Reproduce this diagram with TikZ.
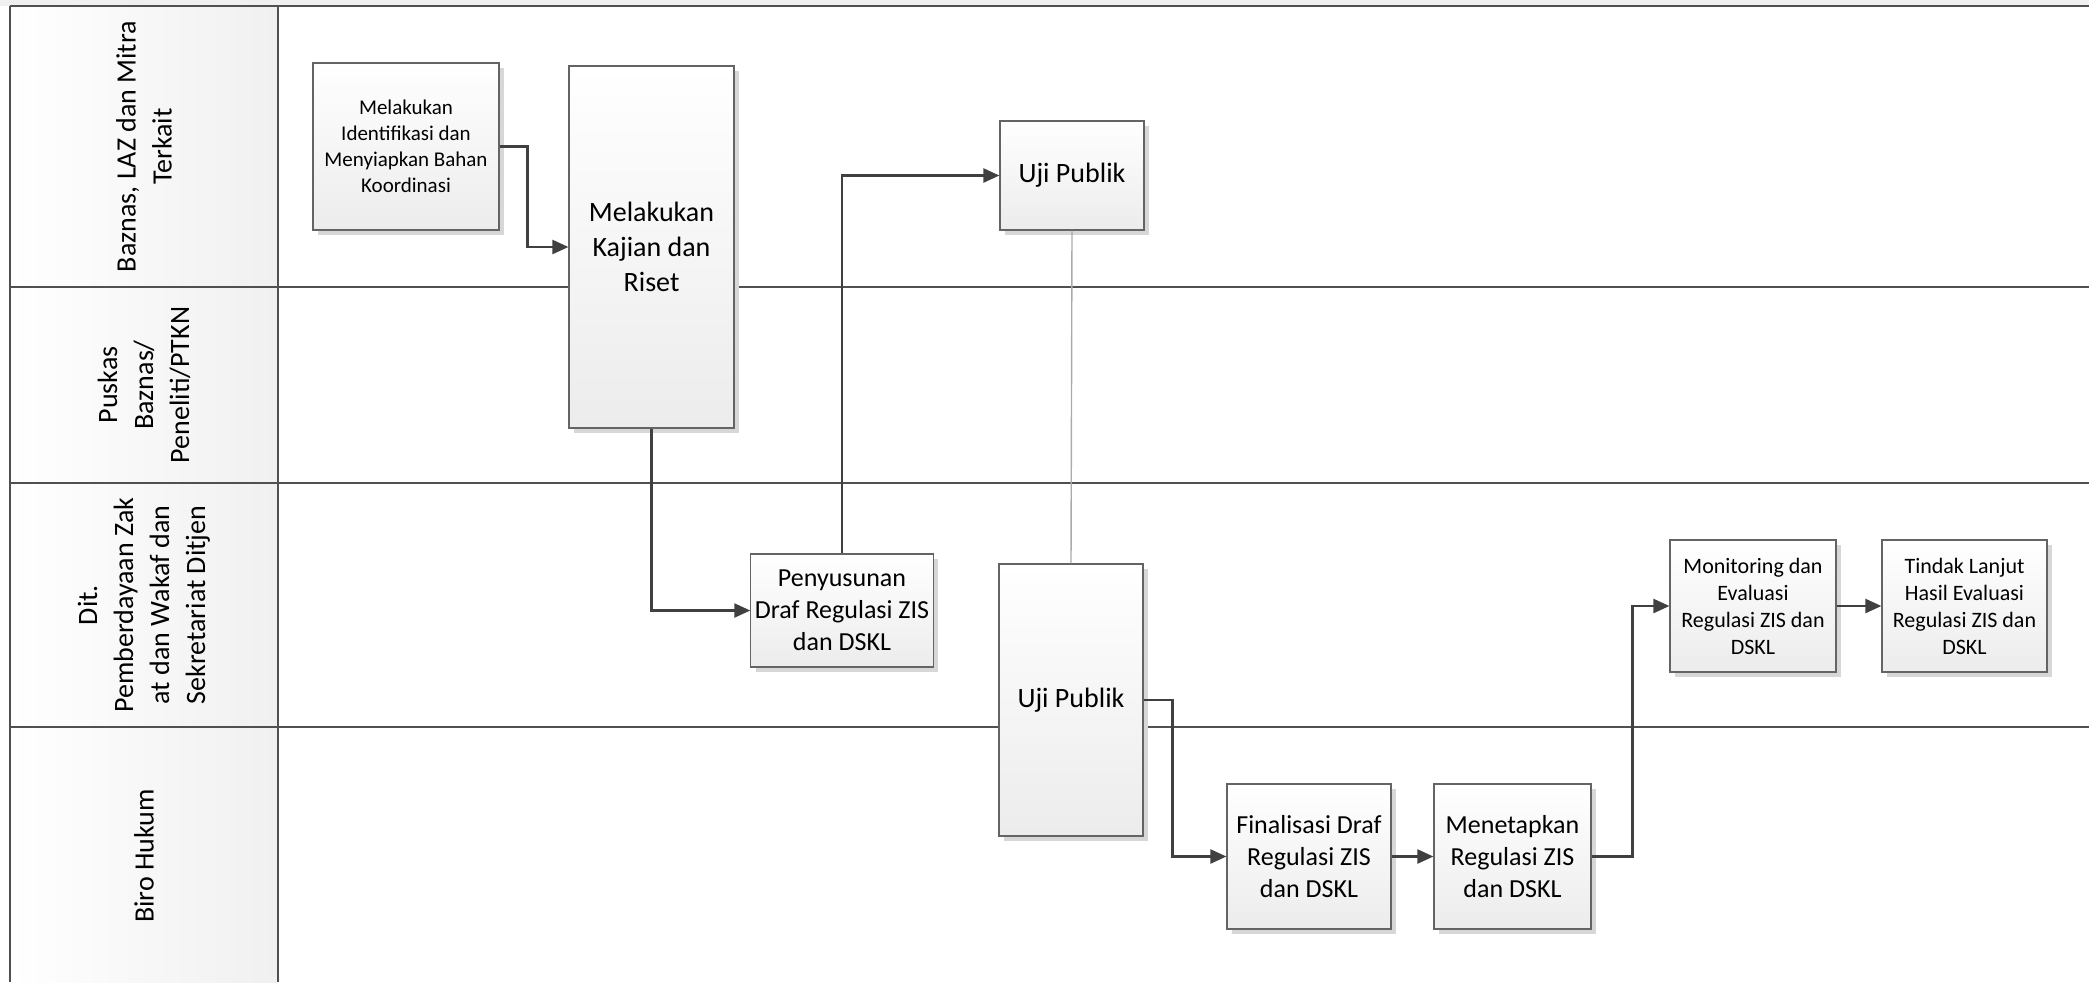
\documentclass[tikz,border=0pt]{standalone}
\definecolor{LineGray}{RGB}{80,80,80}
\definecolor{BoxBorder}{RGB}{100,100,100}
\definecolor{FlowGray}{RGB}{64,64,64}
\definecolor{HeadGray}{RGB}{240,240,240}
\definecolor{BoxBottom}{RGB}{236,236,236}
\definecolor{ShadowGray}{RGB}{215,215,215}
\definecolor{LinkGray}{RGB}{170,170,170}
\usepackage{fontspec}
\setmainfont{Carlito}
\usepackage{tikz}
\usetikzlibrary{positioning, arrows.meta, shadows, calc}

\tikzset{
  procbox/.style={draw=BoxBorder, line width=0.6pt, top color=white, bottom color=BoxBottom,
    drop shadow={shadow xshift=2.5pt, shadow yshift=-2.5pt, fill=ShadowGray, opacity=1},
    align=center, inner sep=2pt, text=black},
  lanelabel/.style={rotate=90, align=center, font=\fontsize{14}{18}\selectfont},
  flow/.style={-{Triangle[length=8pt,width=7pt]}, line width=1.2pt, FlowGray},
  laneline/.style={line width=1.2pt, LineGray}
}

\begin{document}
\begin{tikzpicture}[x=0.5pt,y=-0.5pt]
  \useasboundingbox (0,0) rectangle (2089,982);
  % header strip and lane column
  \fill[HeadGray] (0,0) rectangle (2089,6);
  \shade[left color=white, right color=HeadGray] (10,6) rectangle (278,982);
  % lanes
  \draw[laneline] (10,6) -- (2089,6);
  \draw[laneline] (10,287) -- (2089,287);
  \draw[laneline] (10,483) -- (2089,483);
  \draw[laneline] (10,727) -- (2089,727);
  \draw[laneline] (10,6) -- (10,982);
  \draw[laneline] (278,6) -- (278,982);
  \node[lanelabel] (lbaznas) at (144,146.5) {Baznas, LAZ dan Mitra\\Terkait};
  \node[lanelabel] (lpuskas) at (144,385) {Puskas\\Baznas/\\Peneliti/PTKN};
  \node[lanelabel] (ldit) at (144,605) {Dit.\\Pemberdayaan Zak\\at dan Wakaf dan\\Sekretariat Ditjen};
  \node[lanelabel] (lbiro) at (144,856) {Biro Hukum};

  % process boxes
  \node[procbox, minimum width=93pt, minimum height=83.5pt, font=\fontsize{10.5}{13}\selectfont] (identifikasi) at (406,146.5)
    {Melakukan\\Identifikasi dan\\Menyiapkan Bahan\\Koordinasi};
  \node[procbox, minimum width=82.5pt, minimum height=181pt, font=\fontsize{14}{17.5}\selectfont] (kajian) at (651.5,247)
    {Melakukan\\Kajian dan\\Riset};
  \node[procbox, minimum width=91pt, minimum height=56.5pt, font=\fontsize{13}{16}\selectfont] (penyusunan) at (842,610.5)
    {Penyusunan\\Draf Regulasi ZIS\\dan DSKL};
  \node[procbox, minimum width=72pt, minimum height=54.5pt, font=\fontsize{14}{17}\selectfont] (ujiatas) at (1072,175.5)
    {Uji Publik};
  \node[procbox, minimum width=72pt, minimum height=136pt, font=\fontsize{14}{17}\selectfont] (ujibawah) at (1071,700)
    {Uji Publik};
  \node[procbox, minimum width=82pt, minimum height=72.5pt, font=\fontsize{13}{16}\selectfont] (finalisasi) at (1309,856.5)
    {Finalisasi Draf\\Regulasi ZIS\\dan DSKL};
  \node[procbox, minimum width=78.5pt, minimum height=72.5pt, font=\fontsize{13}{16}\selectfont] (menetapkan) at (1512.5,856.5)
    {Menetapkan\\Regulasi ZIS\\dan DSKL};
  \node[procbox, minimum width=83pt, minimum height=66pt, font=\fontsize{11}{13.5}\selectfont] (monev) at (1753,606)
    {Monitoring dan\\Evaluasi\\Regulasi ZIS dan\\DSKL};
  \node[procbox, minimum width=82.5pt, minimum height=66pt, font=\fontsize{11}{13.5}\selectfont] (tindak) at (1964.5,606)
    {Tindak Lanjut\\Hasil Evaluasi\\Regulasi ZIS dan\\DSKL};

  % connectors
  \draw[flow] (identifikasi.east) -- ++(28,0) |- (kajian.west);
  \draw[flow] (kajian.south) |- (penyusunan.west);
  \draw[flow] (penyusunan.north) |- (ujiatas.west);
  \draw[line width=0.7pt, LinkGray] (ujiatas.south) -- (ujibawah.north);
  \draw[flow] (ujibawah.east) -- ++(29,0) |- (finalisasi.west);
  \draw[flow] (finalisasi) -- (menetapkan);
  \draw[flow] (menetapkan.east) -- ++(41,0) |- (monev.west);
  \draw[flow] (monev) -- (tindak);
\end{tikzpicture}
\end{document}
